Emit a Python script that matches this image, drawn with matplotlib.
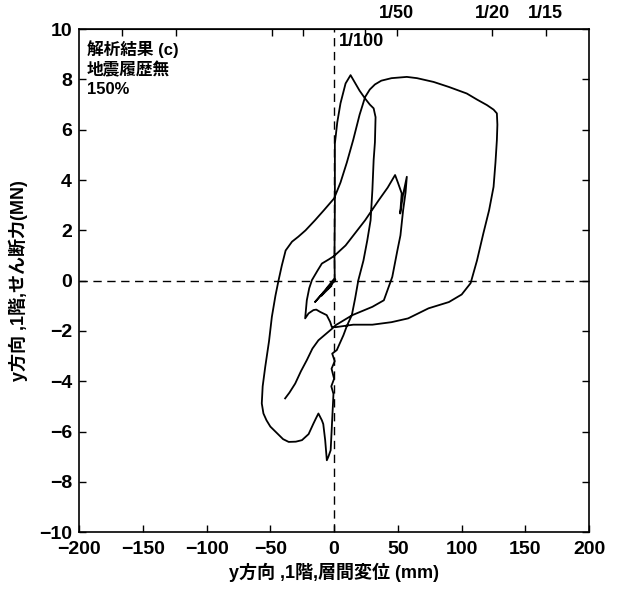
import numpy as np
import matplotlib
matplotlib.use('Agg')
import matplotlib.pyplot as plt

plt.rcParams['font.family'] = ['Liberation Sans', 'Noto Sans CJK JP']
plt.rcParams['font.weight'] = 'bold'

# displacement (mm) / shear force (MN) in drawing order
disp = [0, -3, 1, -6, -2, -10, -8, -15, -9, 0.5,
        0.3, 0.6, 0.6, 2.5, 5, 9, 12.9, 16, 20, 24.3, 28, 31, 32.5,
        32, 31, 30, 28.6, 26, 23, 19, 16.5, 13.9, 10, 7.3, 2.1,
        -1.5, 0.5, -2, 0, -2.2, -0.5, -1.4, -2.7, -4.5, -5.7,
        -7, -8.5, -9.6, -12.3, -14, -16.2, -20, -25.2, -30, -35.6, -40, -46, -50, -53, -55.4, -56.7,
        -56, -54, -51, -48.8, -46, -43.6, -41, -38, -33, -28, -22.4, -15, -8, 0,
        5, 10, 15, 20, 24.3, 28, 32, 37, 45, 57, 65, 78, 90, 104, 112, 119.8, 125, 127.6,
        128, 127.6, 126.5, 125, 121.5, 117, 112, 107, 100, 90, 74, 58, 45, 30, 15, 1,
        -1.8, -3.1, -5.8, -11, -14, -16.2, -20, -22.7,
        -22, -21.4, -19.5, -17.4, -13, -9.6, -4, 0, 9, 24.3, 35, 42, 47.8,
        50, 53, 51.8, 54, 57, 56, 54.1, 52, 49.6, 45.6, 39, 30, 14.3, 1.2,
        -1.4, -6, -12.3, -17, -21.4, -26, -30.5, -35, -38.4]
force = [0, -0.2, 0.05, -0.35, -0.2, -0.6, -0.45, -0.85, -0.5, 0.1,
         1.0, 3.0, 5.45, 6.3, 7.05, 7.84, 8.17, 7.9, 7.55, 7.24, 7.0, 6.85, 6.5,
         5.5, 4.8, 3.6, 2.4, 1.6, 0.8, 0.02, -0.7, -1.37, -1.8, -2.17, -2.76,
         -2.9, -3.2, -3.5, -3.9, -4.2, -4.5, -5.4, -6.74, -7.0, -7.14,
         -6.34, -5.7, -5.55, -5.28, -5.45, -5.68, -6.1, -6.34, -6.4, -6.41, -6.3, -6.0, -5.8, -5.55, -5.28, -4.88,
         -4.2, -3.43, -2.4, -1.44, -0.6, 0.0, 0.6, 1.2, 1.55, 1.75, 2.0, 2.4, 2.8, 3.27,
         3.9, 4.7, 5.6, 6.6, 7.3, 7.6, 7.8, 7.95, 8.05, 8.1, 8.05, 7.9, 7.7, 7.44, 7.2, 6.98, 6.8, 6.65,
         6.2, 5.59, 4.7, 3.73, 2.8, 1.88, 0.8, -0.1, -0.55, -0.85, -1.1, -1.5, -1.65, -1.75, -1.75, -1.85,
         -1.84, -1.64, -1.37, -1.24, -1.15, -1.17, -1.3, -1.5,
         -1.1, -0.78, -0.3, 0.02, 0.4, 0.68, 0.85, 0.98, 1.4, 2.4, 3.2, 3.7, 4.2,
         3.9, 3.47, 2.67, 3.4, 4.13, 3.5, 2.8, 1.8, 1.2, 0.15, -0.78, -1.04, -1.37, -1.77,
         -1.9, -2.1, -2.37, -2.7, -3.16, -3.6, -4.09, -4.45, -4.68]

drift_ticks = [-166, -124, -49, -24, 24, 49, 124, 166]
drift_labels = ['', '', '', '', '', '1/50', '1/20', '1/15']

fig = plt.figure(figsize=(6.17, 5.94), dpi=100)
ax = fig.add_axes([0.128, 0.104, 0.827, 0.847])

ax.axhline(0, color='black', lw=1.0, ls=(0, (6, 4)))
ax.axvline(0, color='black', lw=1.0, ls=(0, (6, 4)))
ax.plot(disp, force, color='black', lw=1.3)

ax.set_xlim(-200, 200)
ax.set_ylim(-10, 10)
ax.set_xticks(np.arange(-200, 201, 50))
ax.set_yticks(np.arange(-10, 11, 2))
ax.tick_params(axis='both', direction='in', length=5, labelsize=14, width=1, right=True, top=False)
ax.tick_params(axis='x', pad=6)
ax.tick_params(axis='y', pad=5)
for lab in ax.get_xticklabels() + ax.get_yticklabels():
    lab.set_fontweight('bold')
for s in ax.spines.values():
    s.set_linewidth(1.2)

top = ax.secondary_xaxis('top')
top.set_xticks(drift_ticks)
top.set_xticklabels(drift_labels, fontsize=13, fontweight='bold')
top.tick_params(direction='in', length=5, width=1, pad=5)

ax.text(4, 9.5, '1/100', fontsize=13, fontweight='bold', va='center', ha='left')
ax.text(-194, 9.55, '解析結果 (c)\n地震履歴無\n150%', fontsize=12, fontweight='bold',
        va='top', ha='left', linespacing=1.3)

ax.set_xlabel('y方向 ,1階,層間変位 (mm)', fontsize=13, fontweight='bold', labelpad=4)
ax.set_ylabel('y方向 ,1階,せん断力(MN)', fontsize=13, fontweight='bold', labelpad=8)

fig.savefig('out.png', dpi=100)
